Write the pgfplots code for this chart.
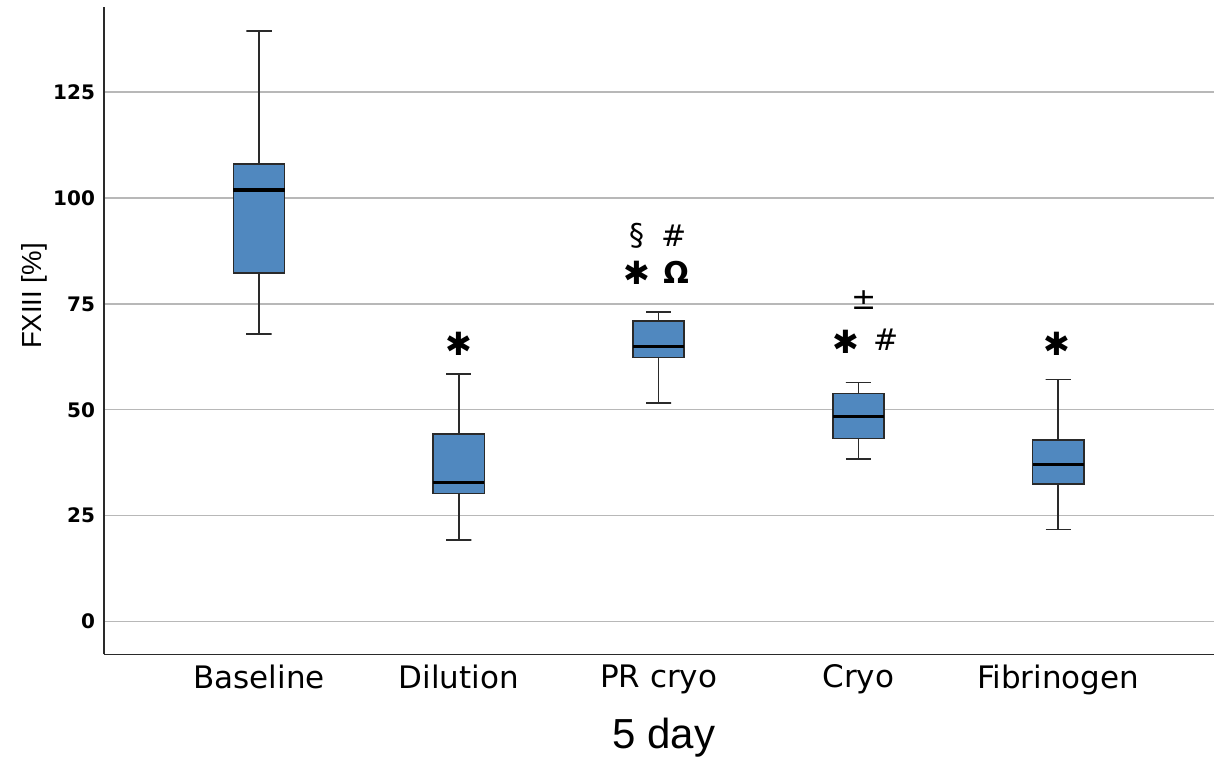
\documentclass[border=0pt]{standalone}
\usepackage{fontspec}
\setmainfont{DejaVu Sans}
\newfontfamily\lib{Liberation Sans}
\usepackage{pgfplots}
\pgfplotsset{compat=1.18}
\definecolor{boxblue}{HTML}{5088BF}
\definecolor{gridgray}{HTML}{B8B8B8}
\definecolor{axgray}{HTML}{2A2A2A}
\tikzset{
  astar/.style={font=\fontsize{16}{16}\selectfont\bfseries, anchor=center},
  asym/.style={font=\fontsize{15}{15}\selectfont, anchor=center},
}
\begin{document}
\begin{tikzpicture}
\useasboundingbox (-52pt,-51.75pt) rectangle (562pt,327.25pt);
\begin{axis}[
  at={(0,0)}, anchor=south west,
  scale only axis, width=555pt, height=323.5pt,
  xmin=-0.776, xmax=4.78, ymin=-7.8, ymax=145,
  axis x line*=bottom, axis y line*=left,
  axis line style={axgray, line width=0.75pt},
  xtick={0,1,2,3,4},
  xticklabels={Baseline, Dilution, PR cryo, Cryo, Fibrinogen},
  ytick={0,25,50,75,100,125},
  major tick length=0pt,
  ymajorgrids, grid style={gridgray, line width=0.75pt},
  /pgf/number format/assume math mode=true,
  yticklabel style={font=\fontsize{10}{11}\selectfont\bfseries, xshift=-1pt},
  xticklabel style={font=\fontsize{15.5}{16}\selectfont, yshift=-1.5pt},
  xlabel={5 day}, ylabel={FXIII [\%]},
  every axis x label/.style={at={(axis description cs:0.5045,-0.129)}, anchor=center, font=\lib\fontsize{21}{22}\selectfont},
  every axis y label/.style={at={(axis description cs:-0.063,0.554)}, anchor=center, rotate=90, font=\lib\fontsize{13.8}{14}\selectfont},
  clip=false,
  whisk/.style={axgray, line width=0.8pt},
  bx/.style={draw=axgray, fill=boxblue, line width=0.8pt, line join=miter},
  med/.style={black, line width=1.6pt},
]
% Baseline: lw 67.9, q1 82.3, med 101.9, q3 108.0, uw 139.4
\addplot[whisk] coordinates {(-0.063,67.9) (0.063,67.9) (0,67.9) (0,82.3)};
\addplot[whisk] coordinates {(0,108.0) (0,139.4) (-0.063,139.4) (0.063,139.4)};
\addplot[bx] coordinates {(-0.128,82.3) (0.128,82.3) (0.128,108.0) (-0.128,108.0)} -- cycle;
\addplot[med] coordinates {(-0.128,101.9) (0.128,101.9)};
% Dilution: 19.3, 30.2, 32.8, 44.3, 58.5
\addplot[whisk] coordinates {(0.937,19.3) (1.063,19.3) (1,19.3) (1,30.2)};
\addplot[whisk] coordinates {(1,44.3) (1,58.5) (0.937,58.5) (1.063,58.5)};
\addplot[bx] coordinates {(0.872,30.2) (1.128,30.2) (1.128,44.3) (0.872,44.3)} -- cycle;
\addplot[med] coordinates {(0.872,32.8) (1.128,32.8)};
% PR cryo: 51.6, 62.3, 64.9, 71.0, 73.1
\addplot[whisk] coordinates {(1.937,51.6) (2.063,51.6) (2,51.6) (2,62.3)};
\addplot[whisk] coordinates {(2,71.0) (2,73.1) (1.937,73.1) (2.063,73.1)};
\addplot[bx] coordinates {(1.872,62.3) (2.128,62.3) (2.128,71.0) (1.872,71.0)} -- cycle;
\addplot[med] coordinates {(1.872,64.9) (2.128,64.9)};
% Cryo: 38.4, 43.2, 48.4, 53.8, 56.4
\addplot[whisk] coordinates {(2.937,38.4) (3.063,38.4) (3,38.4) (3,43.2)};
\addplot[whisk] coordinates {(3,53.8) (3,56.4) (2.937,56.4) (3.063,56.4)};
\addplot[bx] coordinates {(2.872,43.2) (3.128,43.2) (3.128,53.8) (2.872,53.8)} -- cycle;
\addplot[med] coordinates {(2.872,48.4) (3.128,48.4)};
% Fibrinogen: 21.7, 32.5, 37.0, 42.9, 57.1
\addplot[whisk] coordinates {(3.937,21.7) (4.063,21.7) (4,21.7) (4,32.5)};
\addplot[whisk] coordinates {(4,42.9) (4,57.1) (3.937,57.1) (4.063,57.1)};
\addplot[bx] coordinates {(3.872,32.5) (4.128,32.5) (4.128,42.9) (3.872,42.9)} -- cycle;
\addplot[med] coordinates {(3.872,37.0) (4.128,37.0)};
% annotations
\node[astar] at (axis cs:1.0015,65.6) {✱};
\node[astar] at (axis cs:1.893,82.4) {✱};
\node[astar] at (axis cs:2.939,66.1) {✱};
\node[astar] at (axis cs:3.996,65.6) {✱};
\node[asym] at (axis cs:1.893,91) {§};
\node[asym] at (axis cs:2.078,91.2) {\#};
\node[asym, font=\fontsize{15}{15}\selectfont\bfseries] at (axis cs:2.088,82.5) {Ω};
\node[asym] at (axis cs:3.03,75.9) {±};
\node[asym] at (axis cs:3.14,66.5) {\#};
\end{axis}
\end{tikzpicture}
\end{document}
